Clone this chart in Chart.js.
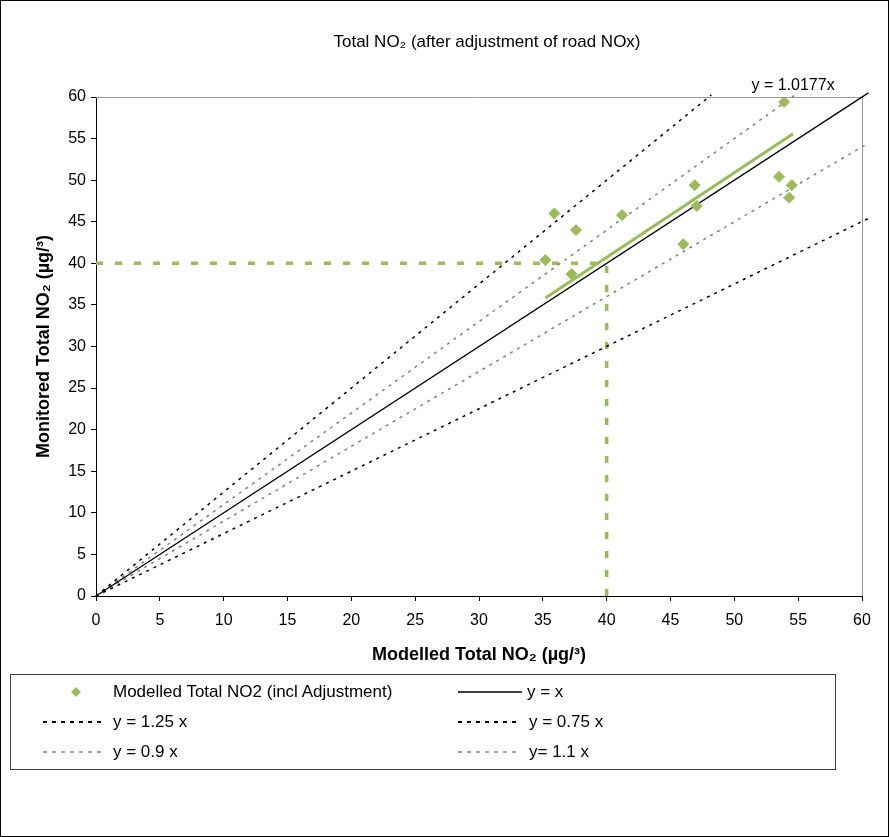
<!DOCTYPE html>
<html><head><meta charset="utf-8">
<script src="https://cdn.jsdelivr.net/npm/chart.js@4"></script>
<style>
html,body{margin:0;padding:0;background:#fff;}
#wrap{position:relative;width:890px;height:837px;overflow:hidden;font-family:'Liberation Sans',Arial,sans-serif;}
#frame{position:absolute;left:0;top:0;width:889px;height:837px;box-sizing:border-box;border:1px solid #000;pointer-events:none;}
canvas{position:absolute;left:0;top:0;}
#legendBox{position:absolute;left:10px;top:674px;width:826px;height:96px;box-sizing:border-box;border:1px solid #404040;}
.item{position:absolute;font-size:17px;line-height:20px;height:20px;color:#000;white-space:nowrap;}
svg.s{position:absolute;overflow:visible;}
</style></head>
<body>
<div id="wrap">
<canvas id="c" width="890" height="837"></canvas>
<div id="legendBox"></div>
<div id="legendItems"></div>
<div id="frame"></div>
</div>
<script>
// ---- data ----
const modelledNO2 = [35.9, 37.6, 35.2, 37.25, 41.2, 46.9, 47.06, 46.0, 53.9, 53.5, 54.5, 54.3];
const monitoredNO2 = [46.0, 44.0, 40.4, 38.7, 45.8, 49.4, 46.9, 42.3, 59.4, 50.4, 49.4, 47.9];

const trendX = [35.2, 54.6];
const trendY = [35.82, 55.57];
const trendLabel = 'y = 1.0177x';

const lineYeqX_X = [0, 60.5],  lineYeqX_Y = [0, 60.5];
const line125_X = [0, 48.2],   line125_Y = [0, 60.25];
const line075_X = [0, 60.5],   line075_Y = [0, 45.4];
const line09_X = [0, 60.5],    line09_Y = [0, 54.45];
const line11_X = [0, 55],      line11_Y = [0, 60.5];

const targetH_X = [0, 40], targetH_Y = [40, 40];
const targetV_X = [40, 40], targetV_Y = [0, 40];

const axisMin = 0, axisMax = 60, axisStep = 5;

const chartTitle = 'Total NO\u2082 (after adjustment of road NOx)';
const xTitle = 'Modelled Total NO\u2082 (\u00b5g/\u00b3)';
const yTitle = 'Monitored Total NO\u2082 (\u00b5g/\u00b3)';

const legendLabels = ['Modelled Total NO2 (incl Adjustment)', 'y = x', 'y = 1.25 x', 'y = 0.75 x', 'y = 0.9 x', 'y= 1.1 x'];

// ---- helpers ----
const zip = (xs, ys) => xs.map((x, i) => ({x: x, y: ys[i]}));
const GREEN = '#9BBB59', GREY = '#808080', FONT = "'Liberation Sans', Arial, sans-serif";

function lineDs(label, xs, ys, color, width, dash, clip) {
  return {label, data: zip(xs, ys), showLine: true, pointRadius: 0, borderColor: color,
          borderWidth: width, borderDash: dash, fill: false, clip: clip, tension: 0};
}

const decor = {
  id: 'decor',
  beforeDatasetsDraw(chart) {
    const {ctx, chartArea: a} = chart;
    ctx.save();
    ctx.strokeStyle = '#999';
    ctx.lineWidth = 1;
    ctx.beginPath();
    ctx.moveTo(a.left, a.top + 0.5); ctx.lineTo(a.right + 0.5, a.top + 0.5); ctx.lineTo(a.right + 0.5, a.bottom);
    ctx.stroke();
    ctx.restore();
  },
  afterDraw(chart) {
    const {ctx, chartArea: a, scales} = chart;
    ctx.save();
    ctx.fillStyle = '#000';
    ctx.textAlign = 'center';
    ctx.textBaseline = 'middle';
    ctx.font = '17px ' + FONT;
    ctx.fillText(chartTitle, (a.left + a.right) / 2 + 8, 42);
    ctx.font = '16px ' + FONT;
    ctx.fillText(trendLabel, scales.x.getPixelForValue(54.6), a.top - 11);
    ctx.restore();
  }
};

new Chart(document.getElementById('c'), {
  type: 'scatter',
  data: {
    datasets: [
      {label: legendLabels[0], data: zip(modelledNO2, monitoredNO2), pointStyle: 'rectRot', pointRadius: 5.5,
       backgroundColor: GREEN, borderColor: GREEN, borderWidth: 1, showLine: false},
      lineDs('trend', trendX, trendY, GREEN, 3, [], false),
      lineDs(legendLabels[1], lineYeqX_X, lineYeqX_Y, '#000', 1.3, [], false),
      lineDs(legendLabels[2], line125_X, line125_Y, '#000', 1.5, [3, 5], false),
      lineDs(legendLabels[3], line075_X, line075_Y, '#000', 1.5, [3, 5], false),
      lineDs(legendLabels[4], line09_X, line09_Y, GREY, 1.5, [3, 5], false),
      lineDs(legendLabels[5], line11_X, line11_Y, GREY, 1.5, [3, 5], false),
      lineDs('target H', targetH_X, targetH_Y, GREEN, 3.5, [7, 12], false),
      lineDs('target V', targetV_X, targetV_Y, GREEN, 3.5, [7, 12], false)
    ]
  },
  options: {
    responsive: false,
    animation: false,
    layout: {padding: {left: 0, right: 28, top: 97, bottom: 166}},
    plugins: {legend: {display: false}, title: {display: false}, tooltip: {enabled: false}},
    scales: {
      x: {
        type: 'linear', min: axisMin, max: axisMax,
        ticks: {stepSize: axisStep, color: '#000', font: {family: FONT, size: 16}, padding: 10, maxRotation: 0},
        grid: {drawOnChartArea: false, drawTicks: true, tickLength: 5, color: '#000'},
        border: {color: '#000', width: 1},
        title: {display: true, text: xTitle, color: '#000', font: {family: FONT, size: 18, weight: 'bold'}, padding: {top: 0, bottom: 5}},
        afterFit(s) { s.height = 75; }
      },
      y: {
        type: 'linear', min: axisMin, max: axisMax,
        ticks: {stepSize: axisStep, color: '#000', font: {family: FONT, size: 16}, padding: 5},
        grid: {drawOnChartArea: false, drawTicks: true, tickLength: 5, color: '#000'},
        border: {color: '#000', width: 1},
        title: {display: true, text: yTitle, color: '#000', font: {family: FONT, size: 18, weight: 'bold'}, padding: {top: 33, bottom: 0}},
        afterFit(s) { s.width = 96; }
      }
    }
  },
  plugins: [decor]
});

// ---- HTML legend ----
const L = document.getElementById('legendItems');
function sample(x1, x2, cy, color, dash, width) {
  const svg = document.createElementNS('http://www.w3.org/2000/svg', 'svg');
  svg.setAttribute('class', 's');
  svg.setAttribute('width', x2 - x1); svg.setAttribute('height', 6);
  svg.style.left = x1 + 'px'; svg.style.top = (cy - 3) + 'px';
  const ln = document.createElementNS('http://www.w3.org/2000/svg', 'line');
  ln.setAttribute('x1', 0); ln.setAttribute('x2', x2 - x1); ln.setAttribute('y1', 3); ln.setAttribute('y2', 3);
  ln.setAttribute('stroke', color); ln.setAttribute('stroke-width', width);
  if (dash) ln.setAttribute('stroke-dasharray', dash);
  svg.appendChild(ln); L.appendChild(svg);
}
function text(str, x, cy) {
  const d = document.createElement('div'); d.className = 'item'; d.textContent = str;
  d.style.left = x + 'px'; d.style.top = (cy - 10) + 'px'; L.appendChild(d);
}
function diamond(cx, cy, r, color) {
  const svg = document.createElementNS('http://www.w3.org/2000/svg', 'svg');
  svg.setAttribute('class', 's'); svg.setAttribute('width', 2 * r); svg.setAttribute('height', 2 * r);
  svg.style.left = (cx - r) + 'px'; svg.style.top = (cy - r) + 'px';
  const p = document.createElementNS('http://www.w3.org/2000/svg', 'polygon');
  p.setAttribute('points', `${r},0 ${2*r},${r} ${r},${2*r} 0,${r}`); p.setAttribute('fill', color);
  svg.appendChild(p); L.appendChild(svg);
}
const rows = [692, 722, 752];
diamond(76, rows[0], 5, GREEN); text(legendLabels[0], 113, rows[0]);
sample(458, 522, rows[0], '#000', null, 1.5); text(legendLabels[1], 527, rows[0]);
sample(43, 106, rows[1], '#000', '4 5', 2); text(legendLabels[2], 113, rows[1]);
sample(458, 519, rows[1], '#000', '4 5', 2); text(legendLabels[3], 529, rows[1]);
sample(43, 106, rows[2], GREY, '4 5', 1.5); text(legendLabels[4], 113, rows[2]);
sample(458, 519, rows[2], GREY, '4 5', 1.5); text(legendLabels[5], 529, rows[2]);
</script>
</body></html>
